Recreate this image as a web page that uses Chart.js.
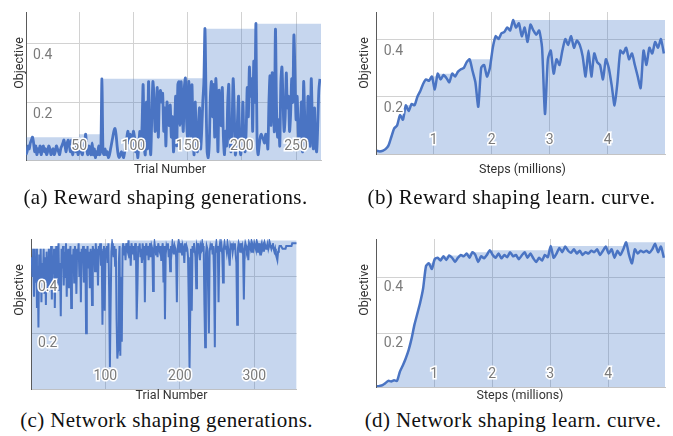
<!DOCTYPE html>
<html><head><meta charset="utf-8">
<script src="https://cdn.jsdelivr.net/npm/chart.js@4/dist/chart.umd.min.js"></script>
<style>
html,body{margin:0;padding:0;background:#fff;}
#wrap{position:relative;width:673px;height:436px;overflow:hidden;background:#fff;}
canvas{position:absolute;}
.t{position:absolute;font-family:Roboto,sans-serif;font-size:12.5px;color:#333;white-space:nowrap;line-height:1;transform:translate(-50%,-50%);z-index:2;}
.rot{transform:translate(-50%,-50%) rotate(-90deg);}
.cap{position:absolute;font-family:"Liberation Serif","Times New Roman",serif;font-size:21px;color:#111;white-space:nowrap;line-height:1;transform:translate(-50%,-50%);letter-spacing:0.4px;z-index:2;}
</style></head><body><div id="wrap">
<div class="t rot" style="left:18.7px;top:62.5px">Objective</div>
<div class="t rot" style="left:363.5px;top:62.5px">Objective</div>
<div class="t rot" style="left:18.7px;top:290px">Objective</div>
<div class="t rot" style="left:363.5px;top:290px">Objective</div>
<div class="t" style="left:170px;top:168.5px">Trial Number</div>
<div class="t" style="left:522.5px;top:168.5px">Steps (millions)</div>
<div class="t" style="left:171.5px;top:395px">Trial Number</div>
<div class="t" style="left:520px;top:395px">Steps (millions)</div>
<div class="cap" style="left:165.5px;top:197px">(a) Reward shaping generations.</div>
<div class="cap" style="left:511.5px;top:197px">(b) Reward shaping learn. curve.</div>
<div class="cap" style="left:166.5px;top:420px">(c) Network shaping generations.</div>
<div class="cap" style="left:513px;top:420px">(d) Network shaping learn. curve.</div>
</div>
<script>
// ---------- (a) Reward shaping generations: objective per trial ----------
const objA = [
0.02,0.03,0.05,0.04,0.06,0.07,0.08,0.06,0.03,0.05,0.02,0.04,0.03,0.05,0.02,0.04,0.05,0.03,0.04,0.02,
0.03,0.05,0.04,0.02,0.03,0.04,0.02,0.03,0.05,0.04,0.03,0.02,0.04,0.05,0.06,0.07,0.05,0.03,0.06,0.07,
0.05,0.03,0.07,0.02,0.04,0.06,0.03,0.05,0.02,0.04,0.07,0.03,0.02,0.05,0.06,0.09,0.04,0.02,0.05,0.03,
0.02,0.06,0.02,0.04,0.01,0.03,0.02,0.05,0.02,0.04,0.28,0.03,0.02,0.04,0.02,0.03,0.01,0.02,0.04,0.06,
0.08,0.10,0.11,0.09,0.05,0.02,0.01,0.02,0.03,0.02,0.01,0.03,0.05,0.08,0.10,0.06,0.09,0.07,0.04,0.10,
0.08,0.03,0.06,0.01,0.05,0.10,0.04,0.12,0.26,0.05,0.02,0.20,0.04,0.27,0.10,0.02,0.15,0.27,0.22,0.10,
0.12,0.25,0.08,0.22,0.24,0.20,0.23,0.10,0.18,0.05,0.20,0.15,0.12,0.19,0.08,0.15,0.03,0.10,0.22,0.05,
0.26,0.27,0.12,0.27,0.18,0.10,0.25,0.282,0.14,0.08,0.27,0.22,0.05,0.26,0.10,0.02,0.20,0.08,0.03,0.12,
0.18,0.04,0.10,0.20,0.27,0.452,0.22,0.03,0.01,0.06,0.22,0.27,0.15,0.26,0.08,0.28,0.19,0.03,0.24,0.16,
0.12,0.25,0.08,0.02,0.10,0.05,0.20,0.26,0.06,0.03,0.12,0.28,0.18,0.02,0.05,0.14,0.22,0.06,0.02,0.08,
0.20,0.06,0.03,0.10,0.25,0.15,0.32,0.22,0.28,0.10,0.34,0.20,0.469,0.08,0.02,0.05,0.08,0.09,0.08,0.07,
0.06,0.09,0.08,0.04,0.20,0.29,0.12,0.30,0.22,0.10,0.45,0.18,0.08,0.14,0.05,0.27,0.32,0.20,0.10,0.15,
0.30,0.18,0.22,0.10,0.16,0.28,0.20,0.43,0.30,0.14,0.22,0.10,0.05,0.12,0.20,0.03,0.27,0.15,0.04,0.06,
0.22,0.10,0.05,0.28,0.14,0.04,0.18,0.06,0.03,0.12,0.24,0.28];
const bestTrialA = [1, 50, 71, 148, 166, 213, 273];
const bestObjA   = [0.08, 0.09, 0.28, 0.282, 0.452, 0.469, 0.469];
const xTicksA = [50, 100, 150, 200, 250];
const xLabelsA = ['50', '100', '150', '200', '250'];
const yTicksA = [0.2, 0.4];
const yLabelsA = ['0.2', '0.4'];

// ---------- (b) Reward shaping learning curve ----------
const stepsB = [0.02,0.07,0.12,0.17,0.22,0.27,0.32,0.37,0.42,0.47,0.52,0.57,0.62,0.67,0.72,0.77,0.82,0.87,0.92,0.97,
1.02,1.07,1.12,1.17,1.22,1.27,1.32,1.37,1.42,1.47,1.52,1.57,1.62,1.67,1.72,1.77,1.82,1.87,1.92,1.97,
2.02,2.07,2.12,2.17,2.22,2.27,2.32,2.37,2.42,2.47,2.52,2.57,2.62,2.67,2.72,2.77,2.82,2.87,2.92,2.97,
3.02,3.07,3.12,3.17,3.22,3.27,3.32,3.37,3.42,3.47,3.52,3.57,3.62,3.67,3.72,3.77,3.82,3.87,3.92,3.97,
4.02,4.07,4.12,4.17,4.22,4.27,4.32,4.37,4.42,4.47,4.52,4.57,4.62,4.67,4.72,4.77,4.82,4.87,4.92,4.97];
const objB = [0.012,0.010,0.012,0.018,0.03,0.06,0.09,0.10,0.136,0.12,
0.17,0.15,0.175,0.17,0.20,0.22,0.245,0.26,0.255,0.27,
0.225,0.28,0.26,0.275,0.265,0.25,0.28,0.27,0.287,0.295,
0.30,0.32,0.33,0.29,0.25,0.165,0.30,0.31,0.27,0.30,
0.37,0.41,0.40,0.42,0.425,0.44,0.43,0.466,0.44,0.455,
0.41,0.44,0.39,0.45,0.43,0.415,0.43,0.37,0.14,0.33,
0.36,0.28,0.33,0.31,0.36,0.40,0.38,0.41,0.37,0.395,
0.38,0.34,0.27,0.36,0.27,0.35,0.32,0.31,0.26,0.33,
0.30,0.24,0.17,0.25,0.36,0.35,0.37,0.33,0.35,0.31,
0.27,0.23,0.36,0.31,0.37,0.35,0.39,0.37,0.40,0.35];
const bestStepB = [0.02,0.17,0.22,0.27,0.32,0.37,0.42,0.47,0.52,0.57,0.62,0.67,0.72,0.77,0.82,0.87,0.92,0.97,1.02,1.07,
1.37,1.42,1.47,1.52,1.57,1.62,1.97,2.02,2.07,2.12,2.17,2.22,2.27,2.32,2.37,4.99];
const bestObjB = [0.012,0.018,0.03,0.06,0.09,0.10,0.136,0.136,0.17,0.17,0.175,0.175,0.20,0.22,0.245,0.26,0.26,0.27,0.27,0.28,
0.28,0.287,0.295,0.30,0.32,0.33,0.33,0.37,0.41,0.41,0.42,0.425,0.44,0.44,0.466,0.466];
const xTicksB = [1, 2, 3, 4];
const xLabelsB = ['1', '2', '3', '4'];
const yTicksB = [0.2, 0.4];
const yLabelsB = ['0.2', '0.4'];

// ---------- (c) Network shaping generations ----------
const objC = [
0.47,0.40,0.50,0.33,0.46,0.38,0.50,0.29,0.44,0.22,0.48,0.36,0.50,0.31,0.45,0.39,0.50,0.34,0.47,0.30,
0.49,0.42,0.35,0.50,0.44,0.37,0.51,0.32,0.47,0.41,0.50,0.29,0.46,0.51,0.38,0.48,0.52,0.35,0.45,0.26,
0.50,0.43,0.51,0.37,0.49,0.40,0.52,0.33,0.47,0.50,0.36,0.44,0.51,0.29,0.48,0.42,0.50,0.38,0.51,0.45,
0.34,0.50,0.47,0.52,0.40,0.49,0.31,0.50,0.45,0.51,0.38,0.47,0.50,0.20,0.46,0.51,0.43,0.49,0.36,0.50,
0.47,0.30,0.51,0.48,0.50,0.42,0.52,0.46,0.50,0.37,0.51,0.48,0.52,0.44,0.50,0.23,0.49,0.51,0.28,0.47,
0.50,0.51,0.45,0.52,0.35,0.08,0.30,0.49,0.52,0.50,0.47,0.51,0.44,0.50,0.25,0.11,0.14,0.45,0.51,0.12,
0.40,0.17,0.50,0.52,0.48,0.51,0.46,0.52,0.50,0.49,0.53,0.47,0.51,0.44,0.52,0.50,0.48,0.51,0.46,0.52,
0.50,0.25,0.36,0.51,0.49,0.52,0.47,0.50,0.45,0.52,0.49,0.51,0.31,0.50,0.52,0.48,0.51,0.46,0.50,0.52,
0.47,0.51,0.50,0.35,0.49,0.52,0.50,0.48,0.51,0.47,0.52,0.50,0.49,0.51,0.46,0.50,0.52,0.38,0.51,0.25,
0.48,0.51,0.50,0.52,0.47,0.50,0.42,0.51,0.49,0.52,0.50,0.48,0.51,0.50,0.47,0.31,0.50,0.52,0.49,0.51,
0.50,0.52,0.48,0.51,0.50,0.45,0.52,0.49,0.51,0.50,0.47,0.30,0.075,0.28,0.50,0.28,0.51,0.49,0.52,0.50,
0.47,0.36,0.51,0.50,0.52,0.48,0.46,0.51,0.50,0.52,0.49,0.51,0.30,0.15,0.48,0.51,0.50,0.35,0.20,0.49,
0.51,0.50,0.52,0.48,0.51,0.40,0.15,0.50,0.52,0.49,0.51,0.31,0.50,0.52,0.49,0.51,0.48,0.38,0.50,0.52,
0.50,0.51,0.49,0.52,0.50,0.47,0.44,0.51,0.50,0.52,0.49,0.51,0.50,0.52,0.48,0.45,0.23,0.50,0.52,0.51,
0.49,0.52,0.50,0.51,0.48,0.32,0.50,0.52,0.51,0.49,0.50,0.46,0.52,0.51,0.50,0.52,0.49,0.51,0.50,0.52,
0.51,0.50,0.52,0.49,0.51,0.50,0.52,0.48,0.51,0.52,0.50,0.51,0.49,0.52,0.51,0.50,0.51,0.52,0.50,0.51,
0.52,0.51,0.50,0.51,0.52,0.50,0.49,0.50,0.48,0.47,0.46,0.49,0.50,0.51,0.51,0.51,0.51,0.50,0.50,0.50,
0.50,0.50,0.51,0.51,0.51,0.51,0.51,0.51,0.51,0.51,0.52,0.52,0.52,0.52,0.52,0.52,0.52];
const bestTrialC = [1, 27, 37, 131, 357];
const bestObjC   = [0.50, 0.51, 0.52, 0.53, 0.53];
const xTicksC = [100, 200, 300];
const xLabelsC = ['100', '200', '300'];
const yTicksC = [0.2, 0.4];
const yLabelsC = ['0.2', '0.4'];

// ---------- (d) Network shaping learning curve ----------
const stepsD = [0.01,0.06,0.11,0.16,0.21,0.26,0.31,0.36,0.41,0.46,0.51,0.56,0.61,0.66,0.71,0.76,0.81,0.86,0.91,0.96,
1.01,1.06,1.11,1.16,1.21,1.26,1.31,1.36,1.41,1.46,1.51,1.56,1.61,1.66,1.71,1.76,1.81,1.86,1.91,1.96,
2.01,2.06,2.11,2.16,2.21,2.26,2.31,2.36,2.41,2.46,2.51,2.56,2.61,2.66,2.71,2.76,2.81,2.86,2.91,2.96,
3.01,3.06,3.11,3.16,3.21,3.26,3.31,3.36,3.41,3.46,3.51,3.56,3.61,3.66,3.71,3.76,3.81,3.86,3.91,3.96,
4.01,4.06,4.11,4.16,4.21,4.26,4.31,4.36,4.41,4.46,4.51,4.56,4.61,4.66,4.71,4.76,4.81,4.86,4.91,4.96];
const objD = [0.010,0.012,0.015,0.022,0.030,0.028,0.032,0.030,0.063,0.085,
0.11,0.14,0.18,0.23,0.27,0.31,0.36,0.44,0.45,0.43,
0.465,0.47,0.46,0.475,0.462,0.478,0.47,0.455,0.47,0.48,
0.475,0.485,0.47,0.49,0.48,0.455,0.475,0.468,0.48,0.497,
0.48,0.47,0.485,0.468,0.48,0.472,0.49,0.475,0.48,0.465,
0.478,0.49,0.47,0.485,0.468,0.455,0.47,0.46,0.48,0.472,
0.512,0.47,0.485,0.505,0.49,0.51,0.495,0.488,0.50,0.485,
0.495,0.48,0.49,0.485,0.495,0.49,0.50,0.48,0.495,0.51,
0.485,0.50,0.47,0.495,0.48,0.50,0.525,0.48,0.45,0.50,
0.485,0.495,0.49,0.495,0.488,0.50,0.52,0.49,0.51,0.47];
const bestStepD = [0.01,0.06,0.11,0.16,0.21,0.36,0.41,0.46,0.51,0.56,0.61,0.66,0.71,0.76,0.81,0.86,0.91,0.96,1.01,1.06,
1.11,1.16,1.21,1.26,1.41,1.46,1.51,1.56,1.61,1.66,1.91,1.96,2.96,3.01,4.26,4.31,4.98];
const bestObjD = [0.010,0.012,0.015,0.022,0.030,0.032,0.063,0.085,0.11,0.14,0.18,0.23,0.27,0.31,0.36,0.44,0.45,0.45,0.465,0.47,
0.47,0.475,0.475,0.478,0.478,0.48,0.48,0.485,0.485,0.49,0.49,0.497,0.497,0.512,0.512,0.525,0.525];
const xTicksD = [1, 2, 3, 4];
const xLabelsD = ['1', '2', '3', '4'];
const yTicksD = [0.2, 0.4];
const yLabelsD = ['0.2', '0.4'];

// ---------- drawing ----------
const LINE = '#4a74c3';
const FILL = 'rgba(66,120,200,0.30)';
const GRID = '#d2d2d2';
const TICKFONT = {family: 'Roboto', size: 14};
const TICKCOL = '#7b7b7b';

function zeroFit(s) {
  if (s.isHorizontal()) s.height = 0; else s.width = 0;
  s.paddingLeft = 0; s.paddingRight = 0; s.paddingTop = 0; s.paddingBottom = 0;
}
const pts = (xs, ys) => xs.map((x, i) => ({x: x, y: ys[i]}));

function panel(area, xr, yr, xt, xl, yt, yl, lx, ly, bx, by, o) {
  const M = 6;
  const l0 = Math.floor(area.l) - M, t0 = Math.floor(area.t) - M;
  const w = Math.ceil(area.r) + M - l0, h = Math.ceil(area.b) + M - t0;
  const cv = document.createElement('canvas');
  cv.width = w; cv.height = h;
  cv.style.left = l0 + 'px'; cv.style.top = t0 + 'px';
  cv.style.width = w + 'px'; cv.style.height = h + 'px';
  document.getElementById('wrap').appendChild(cv);
  const setX = s => { s.ticks = xt.map(v => ({value: v})); };
  const setY = s => { s.ticks = yt.map(v => ({value: v})); };
  new Chart(cv, {
    type: 'line',
    data: {datasets: [
      {data: pts(lx, ly), borderColor: LINE, borderWidth: o.lw, pointRadius: 0, fill: false,
       tension: o.tension, order: 1},
      {data: pts(bx, by), borderColor: 'rgba(0,0,0,0)', borderWidth: 0, pointRadius: 0,
       backgroundColor: FILL, fill: 'origin', stepped: o.stepped, tension: 0, order: 2}
    ]},
    options: {
      responsive: false, animation: false, events: [], devicePixelRatio: 1,
      layout: {padding: {left: area.l - l0, top: area.t - t0, right: l0 + w - area.r, bottom: t0 + h - area.b}},
      plugins: {legend: {display: false}, tooltip: {enabled: false}},
      scales: {
        x: {type: 'linear', position: 'bottom', min: xr[0], max: xr[1], afterBuildTicks: setX, afterFit: zeroFit,
            grid: {color: GRID, drawTicks: false}, border: {display: true, color: '#c4c4c4'}, ticks: {display: false}},
        y: {type: 'linear', position: 'left', min: yr[0], max: yr[1], afterBuildTicks: setY, afterFit: zeroFit,
            grid: {color: GRID, drawTicks: false}, border: {display: true, color: '#5a5a5a'}, ticks: {display: false}},
        xl: {type: 'linear', position: 'bottom', min: xr[0], max: xr[1], afterBuildTicks: setX, afterFit: zeroFit, z: 1,
             grid: {display: false, drawTicks: false}, border: {display: false},
             ticks: {display: true, z: 1, mirror: true, padding: o.xpad, font: TICKFONT, color: TICKCOL, autoSkip: false,
                     maxRotation: 0, textStrokeColor: '#fff', textStrokeWidth: 3, callback: (v, i) => xl[i]}},
        yl: {type: 'linear', position: 'left', min: yr[0], max: yr[1], afterBuildTicks: setY, afterFit: zeroFit, z: 1,
             grid: {display: false, drawTicks: false}, border: {display: false},
             ticks: {display: true, z: 1, mirror: true, padding: 7, labelOffset: o.yoff, font: TICKFONT, color: TICKCOL, autoSkip: false,
                     textStrokeColor: '#fff', textStrokeWidth: 3, callback: (v, i) => yl[i]}}
      }
    }
  });
}

const trialsA = objA.map((_, i) => i + 1);
const trialsC = objC.map((_, i) => i + 1);

panel({l: 26, t: 12, r: 321, b: 160.5}, [1, 273], [0, 0.509], xTicksA, xLabelsA, yTicksA, yLabelsA,
      trialsA, objA, bestTrialA, bestObjA, {lw: 2.8, tension: 0.3, stepped: 'before', xpad: 6, yoff: 12});
panel({l: 376.7, t: 12, r: 665, b: 154.3}, [0.018, 4.99], [0, 0.494], xTicksB, xLabelsB, yTicksB, yLabelsB,
      stepsB, objB, bestStepB, bestObjB, {lw: 2.5, tension: 0.2, stepped: false, xpad: 5.5, yoff: 12});
panel({l: 31, t: 239, r: 296.7, b: 389.5}, [0, 357], [0, 0.535], xTicksC, xLabelsC, yTicksC, yLabelsC,
      trialsC, objC, bestTrialC, bestObjC, {lw: 2, tension: 0, stepped: 'before', xpad: 5, yoff: 10.5});
panel({l: 376.7, t: 239, r: 665, b: 387.3}, [0.01, 4.98], [0.007, 0.537], xTicksD, xLabelsD, yTicksD, yLabelsD,
      stepsD, objD, bestStepD, bestObjD, {lw: 2.5, tension: 0.2, stepped: false, xpad: 4, yoff: 10});
</script></body></html>
